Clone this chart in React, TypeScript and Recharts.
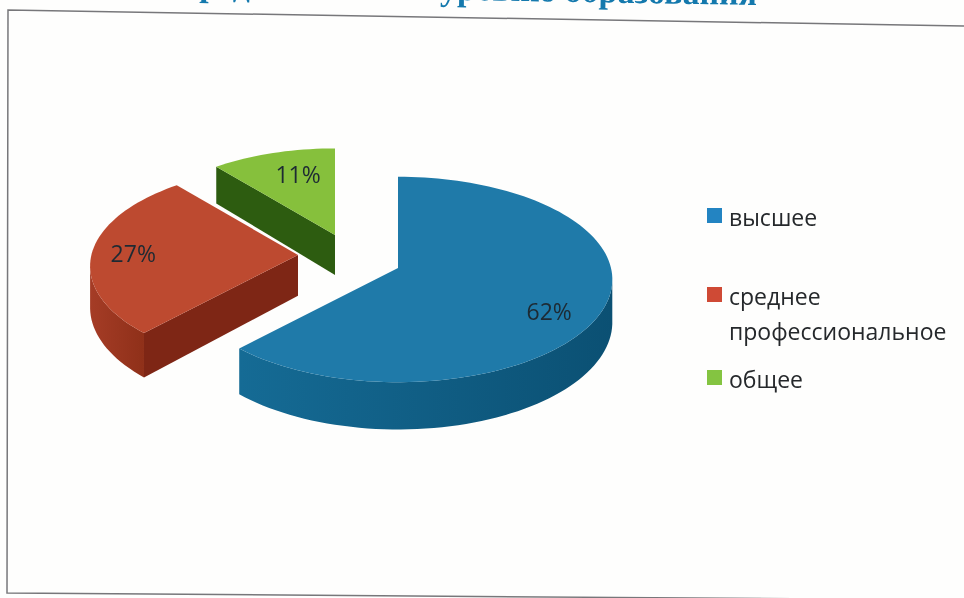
import { Legend, Pie, PieChart } from "recharts";

const categories = ["высшее", "среднее профессиональное", "общее"];
const shares = [62, 27, 11];

const topColors = ["#1f7aa9", "#bd4a30", "#86c03c"];
const rimColors = ["#156b95", "#a53c26", "#4c7a1e"];
const rimEndColors = ["#0b5073", "#8f3019", "#2d5c10"];
const cutColors = ["#0e5578", "#7e2615", "#2d5c10"];
const legendColors = ["#2384c2", "#cf4a35", "#84c441"];

// the scanned chart pulls each slice away from the pie centre
const sliceShift = [
  { dx: 0, dy: 0, scale: 1 },
  { dx: -100, dy: -13, scale: 0.97 },
  { dx: -63, dy: -33, scale: 0.95 },
];
const labelSpots = [
  { reach: 0.74, dy: 15 },
  { reach: 0.8, dy: 0 },
  { reach: 0.57, dy: -12 },
];
const legendGaps = [0, 44, 13];

const TILT = 0.476;
const PERSPECTIVE = 0.112;
const DEPTH = 42;
const RAD = Math.PI / 180;

// painted back to front, so the last category goes first
const chartData = categories
  .map((name, i) => ({ name, value: shares[i], slot: i }))
  .reverse();

function project(slot: number, cx: number, cy: number, r: number, u: number, v: number) {
  const { dx, dy, scale } = sliceShift[slot];
  const w = 1 + PERSPECTIVE * v;
  return {
    x: cx + dx + (scale * r * u) / w,
    y: cy + dy - (scale * r * TILT * v) / w,
    drop: (scale * DEPTH) / w,
  };
}

function toPath(points: { x: number; y: number }[]) {
  return points.map((p, i) => `${i ? "L" : "M"}${p.x},${p.y}`).join(" ") + " Z";
}

function Slice3D(props: any) {
  const { cx, cy, outerRadius, startAngle, endAngle } = props;
  const slot = props.slot ?? props.payload?.slot;
  // recharts angles run counter-clockwise from 3 o'clock, theta runs clockwise from 12
  const from = 90 - Math.max(startAngle, endAngle);
  const to = 90 - Math.min(startAngle, endAngle);
  const steps = Math.max(6, Math.ceil((to - from) / 2));
  const thetas = Array.from({ length: steps + 1 }, (_, i) => from + ((to - from) * i) / steps);
  const at = (t: number, reach = 1) =>
    project(slot, cx, cy, outerRadius, reach * Math.sin(t * RAD), reach * Math.cos(t * RAD));

  const apex = at(0, 0);
  const arc = thetas.map((t) => at(t));
  const rim = thetas.filter((t) => Math.cos(t * RAD) < -PERSPECTIVE).map((t) => at(t));
  const wall = (p: { x: number; y: number; drop: number }) => [
    apex,
    p,
    { x: p.x, y: p.y + p.drop },
    { x: apex.x, y: apex.y + apex.drop },
  ];
  const gradId = `rim-${slot}`;

  return (
    <g>
      <defs>
        <linearGradient id={gradId} x1="0" y1="0" x2="1" y2="0">
          <stop offset="0" stopColor={rimColors[slot]} />
          <stop offset="1" stopColor={rimEndColors[slot]} />
        </linearGradient>
      </defs>
      {Math.sin(from * RAD) < -0.01 ? (
        <path d={toPath(wall(at(from)))} fill={cutColors[slot]} />
      ) : null}
      {Math.sin(to * RAD) > 0.01 ? (
        <path d={toPath(wall(at(to)))} fill={cutColors[slot]} />
      ) : null}
      {rim.length > 1 ? (
        <path
          d={toPath([...rim, ...[...rim].reverse().map((p: any) => ({ x: p.x, y: p.y + p.drop }))])}
          fill={`url(#${gradId})`}
        />
      ) : null}
      <path d={toPath([apex, ...arc])} fill={topColors[slot]} />
    </g>
  );
}

function SliceLabel(props: any) {
  const { cx, cy, outerRadius, midAngle, value } = props;
  const slot = props.slot ?? props.payload?.slot;
  const theta = 90 - midAngle;
  const { reach, dy } = labelSpots[slot];
  const p = project(
    slot,
    cx,
    cy,
    outerRadius,
    reach * Math.sin(theta * RAD),
    reach * Math.cos(theta * RAD),
  );
  return (
    <text
      x={p.x}
      y={p.y + dy}
      textAnchor="middle"
      dominantBaseline="central"
      fontFamily="Open Sans"
      fontSize={23}
      fill="#1d2a33"
    >
      {`${value}%`}
    </text>
  );
}

function ChartLegend() {
  return (
    <div style={{ fontFamily: "Open Sans", fontSize: 23, lineHeight: "35px", color: "#25282b" }}>
      {categories.map((name, i) => (
        <div key={name} style={{ display: "flex", marginTop: legendGaps[i] }}>
          <span
            style={{
              width: 15,
              height: 15,
              marginTop: 8,
              marginRight: 7,
              flexShrink: 0,
              background: legendColors[i],
            }}
          />
          <span style={{ width: 225 }}>{name}</span>
        </div>
      ))}
    </div>
  );
}

export default function App() {
  return (
    <div
      style={{
        position: "fixed",
        left: 0,
        top: 0,
        width: 964,
        height: 598,
        overflow: "hidden",
        background: "#fefefd",
        filter: "blur(0.45px)",
      }}
    >
      <svg width={964} height={598} style={{ position: "absolute", left: 0, top: 0 }}>
        {/* the page was scanned slightly crooked, the title runs off the top edge */}
        <text
          x={757}
          y={5}
          textAnchor="end"
          transform="rotate(0.96 757 5)"
          fontFamily="Liberation Serif"
          fontWeight="bold"
          fontSize={34}
          fill="#1479ad"
        >
          Распределение<tspan dx={33}> по уровню образования</tspan>
        </text>
        <polyline
          points="964,26 8,10 7,593 964,600"
          fill="none"
          stroke="#77777a"
          strokeWidth={1.5}
        />
      </svg>
      <div style={{ position: "absolute", left: 0, top: 0 }}>
        <PieChart width={964} height={598} margin={{ top: 0, right: 0, bottom: 0, left: 0 }}>
          <Pie
            data={chartData}
            dataKey="value"
            nameKey="name"
            cx={398}
            cy={268}
            outerRadius={213}
            startAngle={90}
            endAngle={450}
            stroke="none"
            shape={Slice3D}
            label={SliceLabel}
            labelLine={false}
            isAnimationActive={false}
          />
          <Legend
            content={ChartLegend}
            layout="vertical"
            wrapperStyle={{ position: "absolute", left: 707, top: 200, width: 250 }}
          />
        </PieChart>
      </div>
    </div>
  );
}
